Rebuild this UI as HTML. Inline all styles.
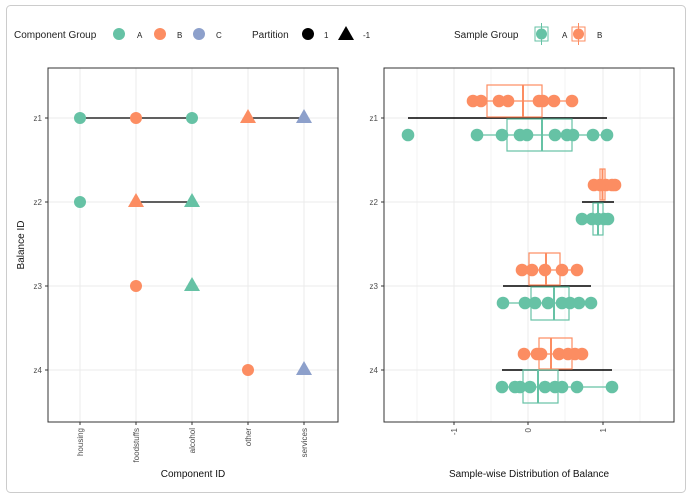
<!DOCTYPE html>
<html><head><meta charset="utf-8"><style>
body{margin:0;background:#fff;}
svg{display:block;font-family:"Liberation Sans",sans-serif;}
</style></head><body>
<svg width="692" height="499" viewBox="0 0 692 499" xmlns="http://www.w3.org/2000/svg">
<rect x="0" y="0" width="692" height="499" fill="#fff"/>
<rect x="6.5" y="5.5" width="679" height="487" rx="4" fill="#fff" stroke="#ccc" stroke-width="1"/>

<!-- Legend -->
<g font-size="10" fill="#222">
<text x="14" y="38">Component Group</text>
<circle cx="119" cy="34" r="6" fill="#66C2A5"/><text x="137" y="38" font-size="8">A</text>
<circle cx="160" cy="34" r="6" fill="#FC8D62"/><text x="177" y="38" font-size="8">B</text>
<circle cx="199" cy="34" r="6" fill="#8DA0CB"/><text x="216" y="38" font-size="8">C</text>
<text x="252" y="38">Partition</text>
<circle cx="308" cy="34" r="6" fill="#000"/><text x="324" y="38" font-size="8">1</text>
<polygon points="346,26 354,40 338,40" fill="#000"/><text x="363" y="38" font-size="8">-1</text>
<text x="454" y="38">Sample Group</text>
<rect x="535" y="27" width="13" height="14" fill="none" stroke="#66C2A5" stroke-width="1"/>
<line x1="541.5" y1="23" x2="541.5" y2="45" stroke="#66C2A5"/>
<circle cx="541.5" cy="34" r="5.5" fill="#66C2A5"/><text x="562" y="38" font-size="8">A</text>
<rect x="572" y="27" width="13" height="14" fill="none" stroke="#FC8D62" stroke-width="1"/>
<line x1="578.5" y1="23" x2="578.5" y2="45" stroke="#FC8D62"/>
<circle cx="578.5" cy="34" r="5.5" fill="#FC8D62"/><text x="597" y="38" font-size="8">B</text>
</g>

<!-- Left panel -->
<g stroke="#ebebeb" stroke-width="1">
<line x1="80" y1="68" x2="80" y2="422"/><line x1="136" y1="68" x2="136" y2="422"/>
<line x1="192" y1="68" x2="192" y2="422"/><line x1="248" y1="68" x2="248" y2="422"/>
<line x1="304" y1="68" x2="304" y2="422"/>
<line x1="48" y1="118" x2="338" y2="118"/><line x1="48" y1="202" x2="338" y2="202"/>
<line x1="48" y1="286" x2="338" y2="286"/><line x1="48" y1="370" x2="338" y2="370"/>
</g>
<g stroke="#000" stroke-width="1.3">
<line x1="80" y1="118" x2="192" y2="118"/><line x1="248" y1="118" x2="304" y2="118"/>
<line x1="136" y1="202" x2="192" y2="202"/>
</g>
<circle cx="80" cy="118" r="6" fill="#66C2A5"/>
<circle cx="136" cy="118" r="6" fill="#FC8D62"/>
<circle cx="192" cy="118" r="6" fill="#66C2A5"/>
<polygon points="248,109 256,123 240,123" fill="#FC8D62"/>
<polygon points="304,109 312,123 296,123" fill="#8DA0CB"/>
<circle cx="80" cy="202" r="6" fill="#66C2A5"/>
<polygon points="136,193 144,207 128,207" fill="#FC8D62"/>
<polygon points="192,193 200,207 184,207" fill="#66C2A5"/>
<circle cx="136" cy="286" r="6" fill="#FC8D62"/>
<polygon points="192,277 200,291 184,291" fill="#66C2A5"/>
<circle cx="248" cy="370" r="6" fill="#FC8D62"/>
<polygon points="304,361 312,375 296,375" fill="#8DA0CB"/>
<rect x="48" y="68" width="290" height="354" fill="none" stroke="#333" stroke-width="1"/>
<g stroke="#333"><line x1="45" y1="118" x2="48" y2="118"/><line x1="45" y1="202" x2="48" y2="202"/><line x1="45" y1="286" x2="48" y2="286"/><line x1="45" y1="370" x2="48" y2="370"/>
<line x1="80" y1="422" x2="80" y2="425"/><line x1="136" y1="422" x2="136" y2="425"/><line x1="192" y1="422" x2="192" y2="425"/><line x1="248" y1="422" x2="248" y2="425"/><line x1="304" y1="422" x2="304" y2="425"/></g>
<g font-size="8" fill="#4d4d4d" text-anchor="end">
<text x="42" y="121">z1</text><text x="42" y="205">z2</text><text x="42" y="289">z3</text><text x="42" y="373">z4</text>
<text transform="translate(83,428) rotate(-90)">housing</text>
<text transform="translate(139,428) rotate(-90)">foodstuffs</text>
<text transform="translate(195,428) rotate(-90)">alcohol</text>
<text transform="translate(251,428) rotate(-90)">other</text>
<text transform="translate(307,428) rotate(-90)">services</text>
</g>
<text x="193" y="477" font-size="10" text-anchor="middle" fill="#111">Component ID</text>
<text transform="translate(24,245) rotate(-90)" font-size="10" text-anchor="middle" fill="#111">Balance ID</text>

<!-- Right panel -->
<g stroke="#ebebeb" stroke-width="1">
<line x1="417" y1="68" x2="417" y2="422" stroke-width="0.6"/><line x1="491" y1="68" x2="491" y2="422" stroke-width="0.6"/>
<line x1="565" y1="68" x2="565" y2="422" stroke-width="0.6"/><line x1="640" y1="68" x2="640" y2="422" stroke-width="0.6"/>
<line x1="454" y1="68" x2="454" y2="422"/><line x1="528" y1="68" x2="528" y2="422"/><line x1="603" y1="68" x2="603" y2="422"/>
<line x1="384" y1="118" x2="674" y2="118"/><line x1="384" y1="202" x2="674" y2="202"/>
<line x1="384" y1="286" x2="674" y2="286"/><line x1="384" y1="370" x2="674" y2="370"/>
</g>
<!-- black lines -->
<g stroke="#000" stroke-width="1.5">
<line x1="408" y1="118" x2="607" y2="118"/>
<line x1="582" y1="202" x2="614" y2="202"/>
<line x1="503" y1="286" x2="591" y2="286"/>
<line x1="502" y1="370" x2="612" y2="370"/>
</g>
<!-- boxes -->
<g fill="none" stroke-width="1.2">
<g stroke="#FC8D62">
<line x1="473" y1="101" x2="572" y2="101"/>
<rect x="487" y="85" width="55" height="32" fill="#fff" fill-opacity="0"/><line x1="523" y1="85" x2="523" y2="117" stroke-width="2"/>
<line x1="588" y1="185" x2="620" y2="185"/>
<rect x="600" y="169" width="5" height="31"/><line x1="602.5" y1="169" x2="602.5" y2="200" stroke-width="2"/>
<line x1="522" y1="270" x2="577" y2="270"/>
<rect x="529" y="253" width="31" height="32"/><line x1="546" y1="253" x2="546" y2="285" stroke-width="2"/>
<line x1="524" y1="354" x2="582" y2="354"/>
<rect x="539" y="338" width="33" height="31"/><line x1="551" y1="338" x2="551" y2="369" stroke-width="2"/>
</g>
<g stroke="#66C2A5">
<line x1="477" y1="135" x2="607" y2="135"/>
<rect x="507" y="119" width="65" height="32"/><line x1="542" y1="119" x2="542" y2="151" stroke-width="2"/>
<line x1="582" y1="219" x2="612" y2="219"/>
<rect x="593" y="203" width="10" height="32"/><line x1="598" y1="203" x2="598" y2="235" stroke-width="2"/>
<line x1="503" y1="303" x2="591" y2="303"/>
<rect x="531" y="287" width="38" height="33"/><line x1="554" y1="287" x2="554" y2="320" stroke-width="2"/>
<line x1="502" y1="387" x2="612" y2="387"/>
<rect x="523" y="370" width="35" height="33"/><line x1="538" y1="370" x2="538" y2="403" stroke-width="2"/>
</g>
</g>
<!-- points -->
<g fill="#FC8D62">
<circle cx="473" cy="101" r="6.3"/><circle cx="481" cy="101" r="6.3"/><circle cx="499" cy="101" r="6.3"/><circle cx="508" cy="101" r="6.3"/><circle cx="539" cy="101" r="6.3"/><circle cx="543" cy="101" r="6.3"/><circle cx="554" cy="101" r="6.3"/><circle cx="572" cy="101" r="6.3"/>
<circle cx="594" cy="185" r="6.3"/><circle cx="600" cy="185" r="6.3"/><circle cx="606" cy="185" r="6.3"/><circle cx="612" cy="185" r="6.3"/><circle cx="615" cy="185" r="6.3"/>
<circle cx="522" cy="270" r="6.3"/><circle cx="532" cy="270" r="6.3"/><circle cx="545" cy="270" r="6.3"/><circle cx="562" cy="270" r="6.3"/><circle cx="577" cy="270" r="6.3"/>
<circle cx="524" cy="354" r="6.3"/><circle cx="537" cy="354" r="6.3"/><circle cx="541" cy="354" r="6.3"/><circle cx="559" cy="354" r="6.3"/><circle cx="568" cy="354" r="6.3"/><circle cx="575" cy="354" r="6.3"/><circle cx="582" cy="354" r="6.3"/>
</g>
<g fill="#66C2A5">
<circle cx="408" cy="135" r="6.3"/><circle cx="477" cy="135" r="6.3"/><circle cx="502" cy="135" r="6.3"/><circle cx="520" cy="135" r="6.3"/><circle cx="527" cy="135" r="6.3"/><circle cx="555" cy="135" r="6.3"/><circle cx="567" cy="135" r="6.3"/><circle cx="573" cy="135" r="6.3"/><circle cx="593" cy="135" r="6.3"/><circle cx="607" cy="135" r="6.3"/>
<circle cx="582" cy="219" r="6.3"/><circle cx="592" cy="219" r="6.3"/><circle cx="598" cy="219" r="6.3"/><circle cx="604" cy="219" r="6.3"/><circle cx="608" cy="219" r="6.3"/>
<circle cx="503" cy="303" r="6.3"/><circle cx="525" cy="303" r="6.3"/><circle cx="535" cy="303" r="6.3"/><circle cx="548" cy="303" r="6.3"/><circle cx="562" cy="303" r="6.3"/><circle cx="570" cy="303" r="6.3"/><circle cx="579" cy="303" r="6.3"/><circle cx="591" cy="303" r="6.3"/>
<circle cx="502" cy="387" r="6.3"/><circle cx="515" cy="387" r="6.3"/><circle cx="520" cy="387" r="6.3"/><circle cx="530" cy="387" r="6.3"/><circle cx="545" cy="387" r="6.3"/><circle cx="555" cy="387" r="6.3"/><circle cx="562" cy="387" r="6.3"/><circle cx="577" cy="387" r="6.3"/><circle cx="612" cy="387" r="6.3"/>
</g>
<rect x="384" y="68" width="290" height="354" fill="none" stroke="#333" stroke-width="1"/>
<g stroke="#333"><line x1="381" y1="118" x2="384" y2="118"/><line x1="381" y1="202" x2="384" y2="202"/><line x1="381" y1="286" x2="384" y2="286"/><line x1="381" y1="370" x2="384" y2="370"/>
<line x1="454" y1="422" x2="454" y2="425"/><line x1="528" y1="422" x2="528" y2="425"/><line x1="603" y1="422" x2="603" y2="425"/></g>
<g font-size="8" fill="#4d4d4d" text-anchor="end">
<text x="378" y="121">z1</text><text x="378" y="205">z2</text><text x="378" y="289">z3</text><text x="378" y="373">z4</text>
<text transform="translate(457,428) rotate(-90)">-1</text>
<text transform="translate(531,428) rotate(-90)">0</text>
<text transform="translate(606,428) rotate(-90)">1</text>
</g>
<text x="529" y="477" font-size="10" text-anchor="middle" fill="#111">Sample-wise Distribution of Balance</text>
</svg>
</body></html>
